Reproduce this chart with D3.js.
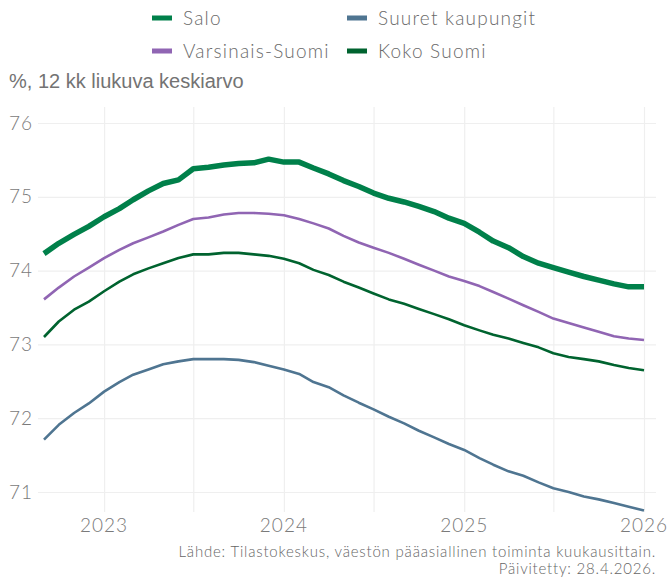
<!DOCTYPE html>
<html>
  <head>
    <meta charset="UTF-8" />
    <style>
      body {
        margin: 0;
        background-color: #ffffff;
      }
      svg {
        display: block;
      }
      .light {
        font-family: Lato, "Open Sans", sans-serif;
        font-weight: 300;
      }
      .grid line {
        stroke: #efefef;
        stroke-width: 1.2;
      }
      .grid .domain {
        display: none;
      }
    </style>
  </head>

  <body>
    <svg id="chart"></svg>

    <script src="https://d3js.org/d3.v7.min.js"></script>
    <script>
      // monthly points, 12 month moving average
      const months = [
        "2022-09", "2022-10", "2022-11", "2022-12",
        "2023-01", "2023-02", "2023-03", "2023-04", "2023-05", "2023-06",
        "2023-07", "2023-08", "2023-09", "2023-10", "2023-11", "2023-12",
        "2024-01", "2024-02", "2024-03", "2024-04", "2024-05", "2024-06",
        "2024-07", "2024-08", "2024-09", "2024-10", "2024-11", "2024-12",
        "2025-01", "2025-02", "2025-03", "2025-04", "2025-05", "2025-06",
        "2025-07", "2025-08", "2025-09", "2025-10", "2025-11", "2025-12",
        "2026-01",
      ];

      const salo = [
        74.23, 74.37, 74.49, 74.6, 74.73, 74.84, 74.96, 75.08, 75.18, 75.23,
        75.38, 75.4, 75.43, 75.45, 75.46, 75.51, 75.47, 75.47, 75.39, 75.31,
        75.22, 75.14, 75.05, 74.98, 74.93, 74.87, 74.8, 74.71, 74.64, 74.52,
        74.4, 74.31, 74.19, 74.1, 74.04, 73.98, 73.92, 73.87, 73.82, 73.78,
        73.78,
      ];
      const varsinaisSuomi = [
        73.61, 73.77, 73.92, 74.04, 74.17, 74.28, 74.37, 74.45, 74.53, 74.62,
        74.7, 74.72, 74.76, 74.78, 74.78, 74.77, 74.75, 74.7, 74.64, 74.57,
        74.47, 74.38, 74.31, 74.24, 74.16, 74.08, 74.0, 73.92, 73.86, 73.79,
        73.71, 73.62, 73.53, 73.44, 73.35, 73.29, 73.23, 73.17, 73.11, 73.08,
        73.06,
      ];
      const suuretKaupungit = [
        71.71, 71.91, 72.07, 72.2, 72.36, 72.49, 72.59, 72.66, 72.73, 72.77,
        72.8, 72.8, 72.8, 72.79, 72.76, 72.71, 72.66, 72.6, 72.49, 72.42,
        72.31, 72.21, 72.12, 72.02, 71.93, 71.83, 71.74, 71.65, 71.57, 71.46,
        71.37, 71.28, 71.22, 71.13, 71.05, 71.0, 70.94, 70.9, 70.85, 70.8,
        70.75,
      ];
      const kokoSuomi = [
        73.1, 73.31, 73.47, 73.58, 73.72, 73.85, 73.95, 74.03, 74.1, 74.17,
        74.22, 74.22, 74.24, 74.24, 74.22, 74.2, 74.16, 74.1, 74.01, 73.94,
        73.85, 73.77, 73.69, 73.61, 73.55, 73.48, 73.41, 73.34, 73.26, 73.19,
        73.13, 73.08, 73.02, 72.96, 72.88, 72.83, 72.8, 72.77, 72.72, 72.68,
        72.65,
      ];

      const seriesNames = ["Salo", "Suuret kaupungit", "Varsinais-Suomi", "Koko Suomi"];
      const seriesValues = [salo, suuretKaupungit, varsinaisSuomi, kokoSuomi];
      const seriesColors = ["#00804a", "#4f7591", "#9065b3", "#00632f"];
      const seriesWidths = [5.5, 2.6, 2.6, 2.6];

      const yTicks = [71, 72, 73, 74, 75, 76];
      const xTicks = ["2023", "2024", "2025", "2026"];
      const xMinorTicks = ["2023-07", "2024-07", "2025-07"];

      const subtitle = "%, 12 kk liukuva keskiarvo";
      const caption = [
        "Lähde: Tilastokeskus, väestön pääasiallinen toiminta kuukausittain.",
        "Päivitetty: 28.4.2026.",
      ];

      const W = 669;
      const H = 579;
      const panel = { left: 38, right: 656, top: 107, bottom: 512 };

      const parseMonth = d3.timeParse("%Y-%m");
      const parseYear = d3.timeParse("%Y");
      const dates = months.map(parseMonth);

      const svg = d3.select("#chart").attr("width", W).attr("height", H);

      const x = d3
        .scaleTime()
        .domain(d3.extent(dates))
        .range([44, 644]);

      const y = d3.scaleLinear().domain([71, 76]).range([492, 123]);

      // grid
      svg
        .append("g")
        .attr("class", "grid")
        .attr("transform", `translate(${panel.left},0)`)
        .call(
          d3
            .axisLeft(y)
            .tickValues(yTicks)
            .tickSize(-(panel.right - panel.left))
            .tickFormat("")
        );

      const vGrid = xTicks.map(parseYear).concat(xMinorTicks.map(parseMonth));
      svg
        .append("g")
        .attr("class", "grid")
        .attr("transform", `translate(0,${panel.bottom})`)
        .call(
          d3
            .axisBottom(x)
            .tickValues(vGrid)
            .tickSize(-(panel.bottom - panel.top))
            .tickFormat("")
        );

      // axis labels
      svg
        .append("g")
        .selectAll("text")
        .data(yTicks)
        .join("text")
        .attr("class", "light")
        .attr("x", 33)
        .attr("y", (d) => y(d))
        .attr("dy", "0.35em")
        .attr("text-anchor", "end")
        .attr("font-size", 19)
        .attr("letter-spacing", 1)
        .attr("fill", "#7a7a7a")
        .text((d) => d);

      svg
        .append("g")
        .selectAll("text")
        .data(xTicks)
        .join("text")
        .attr("class", "light")
        .attr("x", (d) => x(parseYear(d)))
        .attr("y", 525)
        .attr("dy", "0.35em")
        .attr("text-anchor", "middle")
        .attr("font-size", 19)
        .attr("letter-spacing", 1)
        .attr("fill", "#7a7a7a")
        .text((d) => d);

      // lines, Salo drawn last so it sits on top
      const line = d3
        .line()
        .x((d, i) => x(dates[i]))
        .y((d) => y(d));

      const order = [3, 1, 2, 0];
      svg
        .append("g")
        .selectAll("path")
        .data(order)
        .join("path")
        .attr("fill", "none")
        .attr("stroke", (k) => seriesColors[k])
        .attr("stroke-width", (k) => seriesWidths[k])
        .attr("stroke-linejoin", "round")
        .attr("d", (k) => line(seriesValues[k]));

      // legend
      const legend = svg
        .append("g")
        .selectAll("g")
        .data(seriesNames)
        .join("g")
        .attr(
          "transform",
          (d, i) => `translate(${i % 2 === 0 ? 152 : 347},${i < 2 ? 18 : 51})`
        );

      legend
        .append("rect")
        .attr("x", 0)
        .attr("y", -2.5)
        .attr("width", 20)
        .attr("height", 5)
        .attr("fill", (d, i) => seriesColors[i]);

      legend
        .append("text")
        .attr("class", "light")
        .attr("x", 31)
        .attr("dy", "0.35em")
        .attr("font-size", 19)
        .attr("letter-spacing", 1.2)
        .attr("fill", "#6a6a6a")
        .text((d) => d);

      svg
        .append("text")
        .attr("x", 9)
        .attr("y", 81)
        .attr("dy", "0.35em")
        .attr("font-family", "'Liberation Sans', Arial, sans-serif")
        .attr("font-size", 20)
        .attr("fill", "#737373")
        .text(subtitle);

      svg
        .append("g")
        .selectAll("text")
        .data(caption)
        .join("text")
        .attr("class", "light")
        .attr("x", 656)
        .attr("y", (d, i) => 552 + i * 17)
        .attr("dy", "0.35em")
        .attr("text-anchor", "end")
        .attr("font-size", 15)
        .attr("letter-spacing", 0.8)
        .attr("fill", "#666")
        .text((d) => d);
    </script>
  </body>
</html>
